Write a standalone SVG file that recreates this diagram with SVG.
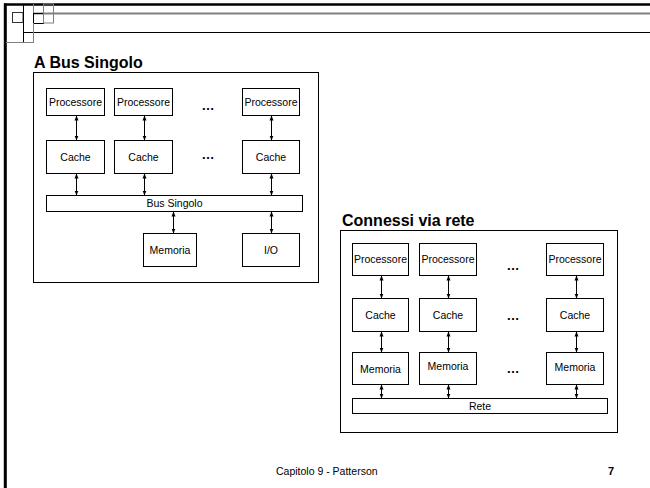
<svg xmlns="http://www.w3.org/2000/svg" width="650" height="488" viewBox="0 0 650 488">
<style>
.box{fill:#fff;stroke:#000;stroke-width:1}
.lbl{font-family:"Liberation Sans",Arial,sans-serif;font-size:10.5px;text-anchor:middle;fill:#000}
.ttl{font-family:"Liberation Sans",Arial,sans-serif;font-size:16px;font-weight:bold;fill:#000}
.dots{font-family:"Liberation Sans",Arial,sans-serif;font-size:13px;font-weight:bold;text-anchor:middle;fill:#000}
.con{stroke:#000;stroke-width:1;marker-start:url(#ah);marker-end:url(#ah)}
.frame{fill:none;stroke:#000;stroke-width:1}
</style>
<defs>
<marker id="ah" markerUnits="userSpaceOnUse" markerWidth="5" markerHeight="5" refX="4.5" refY="2" orient="auto-start-reverse" viewBox="0 0 5 4">
<path d="M0,0 L5,2 L0,4 z" fill="#000"/>
</marker>
</defs>
<rect width="650" height="488" fill="#fff"/>
<g id="decoration">
<line x1="4" y1="4.5" x2="650" y2="4.5" stroke="#000" stroke-width="2.5"/>
<line x1="5.3" y1="3.5" x2="5.3" y2="488" stroke="#000" stroke-width="3"/>
<line x1="33" y1="13.5" x2="650" y2="13.5" stroke="#808080" stroke-width="2"/>
<line x1="23" y1="32.5" x2="650" y2="32.5" stroke="#000" stroke-width="1"/>
<rect x="12.5" y="12.5" width="10.5" height="10" fill="none" stroke="#333" stroke-width="1"/>
<line x1="23.5" y1="4" x2="23.5" y2="43" stroke="#000" stroke-width="1"/>
<rect x="33.5" y="13.5" width="10" height="10" fill="none" stroke="#000" stroke-width="1"/>
<line x1="33.5" y1="23" x2="33.5" y2="43" stroke="#808080" stroke-width="1"/>
<line x1="6" y1="42.5" x2="33.5" y2="42.5" stroke="#808080" stroke-width="1"/>
<rect x="43.5" y="4" width="10" height="19" fill="none" stroke="#808080" stroke-width="1"/>
<line x1="33.5" y1="4" x2="33.5" y2="13" stroke="#808080" stroke-width="1"/>
</g>
<g id="panel-bus">
<text class="ttl" x="34" y="68">A Bus Singolo</text>
<rect class="frame" x="33.5" y="72.5" width="285" height="210"/>
</g>
<g id="p1-proc1"><rect class="box" x="46.5" y="88.5" width="58" height="27"/><text class="lbl" x="75.5" y="105.5">Processore</text></g>
<g id="p1-proc2"><rect class="box" x="114.5" y="88.5" width="58" height="27"/><text class="lbl" x="143.5" y="105.5">Processore</text></g>
<g id="p1-proc3"><rect class="box" x="242.5" y="88.5" width="57" height="27"/><text class="lbl" x="271" y="105.5">Processore</text></g>
<g id="p1-cache1"><rect class="box" x="46.5" y="140.5" width="58" height="33"/><text class="lbl" x="75.5" y="160.5">Cache</text></g>
<g id="p1-cache2"><rect class="box" x="114.5" y="140.5" width="58" height="33"/><text class="lbl" x="143.5" y="160.5">Cache</text></g>
<g id="p1-cache3"><rect class="box" x="242.5" y="140.5" width="57" height="33"/><text class="lbl" x="271" y="160.5">Cache</text></g>
<g id="p1-bus"><rect class="box" x="46.5" y="195.5" width="256" height="16"/><text class="lbl" x="174.5" y="207">Bus Singolo</text></g>
<g id="p1-mem"><rect class="box" x="143.5" y="233.5" width="53" height="33"/><text class="lbl" x="170" y="253.5">Memoria</text></g>
<g id="p1-io"><rect class="box" x="242.5" y="233.5" width="57" height="33"/><text class="lbl" x="271" y="253.5">I/O</text></g>
<g id="p1-dots">
<text class="dots" x="208" y="110">…</text>
<text class="dots" x="208" y="159">…</text>
</g>
<g id="panel-rete">
<text class="ttl" x="342" y="226">Connessi via rete</text>
<rect class="frame" x="340.5" y="230.5" width="277" height="202"/>
</g>
<g id="p2-proc1"><rect class="box" x="352.5" y="243.5" width="56" height="32"/><text class="lbl" x="380.5" y="263">Processore</text></g>
<g id="p2-proc2"><rect class="box" x="419.5" y="243.5" width="57" height="32"/><text class="lbl" x="448" y="263">Processore</text></g>
<g id="p2-proc3"><rect class="box" x="546.5" y="243.5" width="57" height="32"/><text class="lbl" x="575" y="263">Processore</text></g>
<g id="p2-cache1"><rect class="box" x="352.5" y="298.5" width="56" height="33"/><text class="lbl" x="380.5" y="318.5">Cache</text></g>
<g id="p2-cache2"><rect class="box" x="419.5" y="298.5" width="57" height="33"/><text class="lbl" x="448" y="318.5">Cache</text></g>
<g id="p2-cache3"><rect class="box" x="546.5" y="298.5" width="57" height="33"/><text class="lbl" x="575" y="318.5">Cache</text></g>
<g id="p2-mem1"><rect class="box" x="352.5" y="352.5" width="56" height="32"/><text class="lbl" x="380.5" y="372.5">Memoria</text></g>
<g id="p2-mem2"><rect class="box" x="419.5" y="352.5" width="57" height="32"/><text class="lbl" x="448" y="370">Memoria</text></g>
<g id="p2-mem3"><rect class="box" x="546.5" y="352.5" width="57" height="32"/><text class="lbl" x="575" y="371">Memoria</text></g>
<g id="p2-rete"><rect class="box" x="352.5" y="398.5" width="255" height="15"/><text class="lbl" x="480" y="409.5">Rete</text></g>
<g id="p2-dots">
<text class="dots" x="513" y="270">…</text>
<text class="dots" x="513" y="320">…</text>
<text class="dots" x="513" y="373">…</text>
</g>
<g id="connectors">
<line class="con" x1="76.5" y1="116" x2="76.5" y2="140"/>
<line class="con" x1="144.5" y1="116" x2="144.5" y2="140"/>
<line class="con" x1="271.5" y1="116" x2="271.5" y2="140"/>
<line class="con" x1="76.5" y1="174" x2="76.5" y2="195"/>
<line class="con" x1="144.5" y1="174" x2="144.5" y2="195"/>
<line class="con" x1="271.5" y1="174" x2="271.5" y2="195"/>
<line class="con" x1="173.5" y1="212" x2="173.5" y2="233"/>
<line class="con" x1="271.5" y1="212" x2="271.5" y2="233"/>
<line class="con" x1="381.5" y1="276" x2="381.5" y2="298"/>
<line class="con" x1="448.5" y1="276" x2="448.5" y2="298"/>
<line class="con" x1="576.5" y1="276" x2="576.5" y2="298"/>
<line class="con" x1="381.5" y1="332" x2="381.5" y2="352"/>
<line class="con" x1="448.5" y1="332" x2="448.5" y2="352"/>
<line class="con" x1="576.5" y1="332" x2="576.5" y2="352"/>
<line class="con" x1="381.5" y1="385" x2="381.5" y2="398"/>
<line class="con" x1="448.5" y1="385" x2="448.5" y2="398"/>
<line class="con" x1="576.5" y1="385" x2="576.5" y2="398"/>
</g>
<g id="footer">
<text x="276" y="475" font-family="'Liberation Sans',Arial,sans-serif" font-size="10.5" fill="#000">Capitolo 9 - Patterson</text>
<text x="608" y="475" font-family="'Liberation Sans',Arial,sans-serif" font-size="11" font-weight="bold" fill="#000">7</text>
</g>
</svg>
